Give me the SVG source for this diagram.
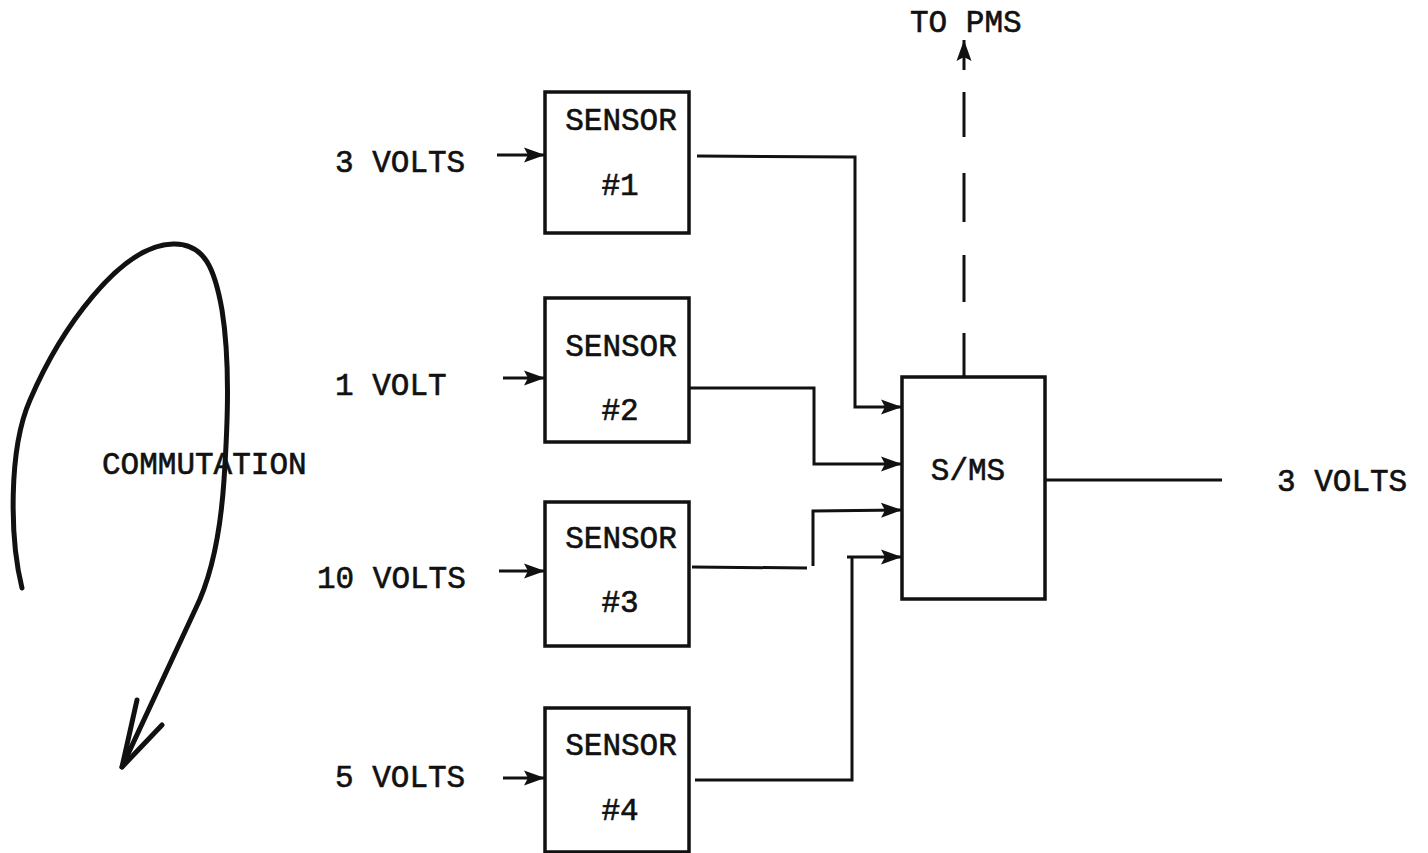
<svg xmlns="http://www.w3.org/2000/svg" width="1428" height="853" viewBox="0 0 1428 853">
<style>
.box{fill:#fff;stroke:#111;stroke-width:3.5}
.ln{fill:none;stroke:#111;stroke-width:3}
.t{font-family:"Liberation Mono","DejaVu Sans Mono",monospace;font-size:31px;fill:#111;stroke:#111;stroke-width:0.6}
.c{text-anchor:middle}
</style>
<defs>
<marker id="ah" viewBox="0 0 22 16" markerUnits="userSpaceOnUse" markerWidth="22" markerHeight="16" refX="21" refY="8" orient="auto">
<path d="M0,0.5 L21,8 L0,15.5 L4,8 z" fill="#111"/>
</marker>
</defs>
<rect width="1428" height="853" fill="#fff"/>

<g id="connectors">
<path class="ln" d="M497,155 L545,155" marker-end="url(#ah)"/>
<path class="ln" d="M503,378 L545,378" marker-end="url(#ah)"/>
<path class="ln" d="M499,571 L545,571" marker-end="url(#ah)"/>
<path class="ln" d="M503,778 L545,778" marker-end="url(#ah)"/>
<path class="ln" d="M697,156 L855,157 L855,407 L902,407" marker-end="url(#ah)"/>
<path class="ln" d="M689,388 L814,388 L814,464 L902,464" marker-end="url(#ah)"/>
<path class="ln" d="M692,567 L807,568"/>
<path class="ln" d="M813,566 L813,511 L902,510" marker-end="url(#ah)"/>
<path class="ln" d="M695,780 L852,780 L852,557"/>
<path class="ln" d="M847,557 L902,557" marker-end="url(#ah)"/>
<path class="ln" d="M1045,480 L1222,480"/>
<path class="ln" stroke-width="3.5" d="M964,377 L964,333 M964,302 L964,255 M964,222 L964,173 M964,137 L964,92"/>
<path class="ln" d="M964,70 L964,40" marker-end="url(#ah)"/>
<path fill="none" stroke="#111" stroke-width="5" stroke-linecap="round" d="M22,588 C10,540 8,450 30,400 C60,330 120,245 173,244 C205,243 215,270 222,310 C230,360 228,420 224,480 C220,540 210,580 195,610 L122,767"/>
<path fill="none" stroke="#111" stroke-width="5" stroke-linecap="round" stroke-linejoin="round" d="M137,700 L122,767 L162,725"/>
</g>

<g id="sensor1">
<rect class="box" x="545" y="92" width="144" height="141"/>
<text class="t c" x="621" y="130">SENSOR</text>
<text class="t c" x="620" y="195">#1</text>
</g>
<g id="sensor2">
<rect class="box" x="545" y="298" width="144" height="144"/>
<text class="t c" x="621" y="356">SENSOR</text>
<text class="t c" x="620" y="420">#2</text>
</g>
<g id="sensor3">
<rect class="box" x="545" y="502" width="144" height="144"/>
<text class="t c" x="621" y="548">SENSOR</text>
<text class="t c" x="620" y="612">#3</text>
</g>
<g id="sensor4">
<rect class="box" x="545" y="708" width="144" height="144"/>
<text class="t c" x="621" y="755">SENSOR</text>
<text class="t c" x="620" y="820">#4</text>
</g>
<g id="sms">
<rect class="box" x="902" y="377" width="143" height="222"/>
<text class="t c" x="968" y="480">S/MS</text>
</g>
<g id="labels">
<text class="t" x="335" y="172">3 VOLTS</text>
<text class="t" x="335" y="395">1 VOLT</text>
<text class="t" x="317" y="588">10 VOLTS</text>
<text class="t" x="335" y="787">5 VOLTS</text>
<text class="t" x="1277" y="491">3 VOLTS</text>
<text class="t" x="910" y="32">TO PMS</text>
<text class="t" x="102" y="474">COMMUTATION</text>
</g>
</svg>
